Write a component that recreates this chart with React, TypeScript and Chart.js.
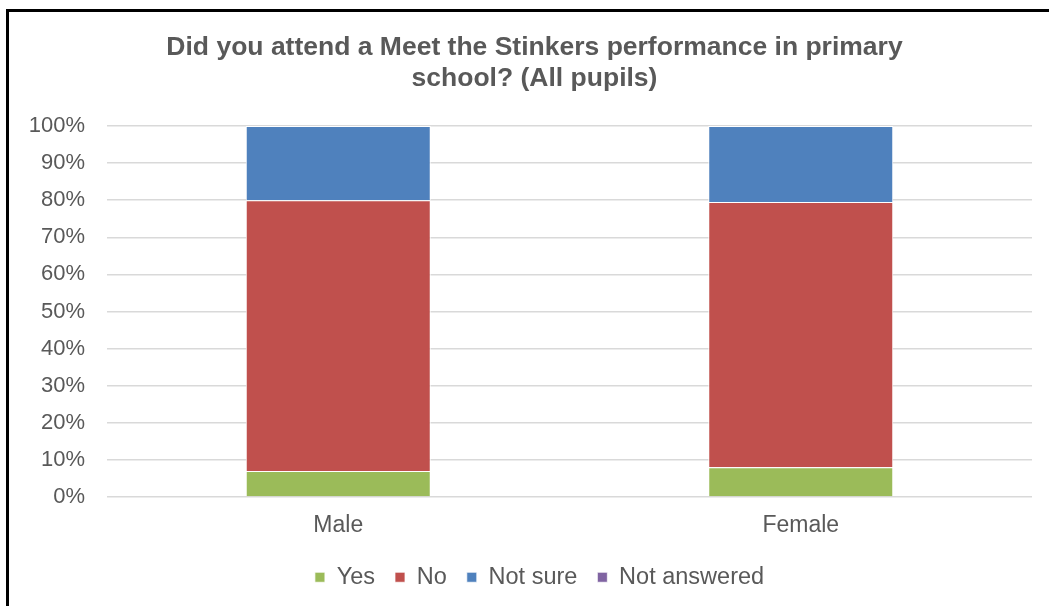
import React, { useEffect, useRef } from "react";
import { Chart, registerables } from "chart.js";

Chart.register(...registerables);

const categories = ["Male", "Female"];
const yesValues = [7, 8];
const noValues = [73, 71.5];
const notSureValues = [20, 20.5];
const notAnsweredValues = [0, 0];
const seriesLabels = ["Yes", "No", "Not sure", "Not answered"];
const seriesColors = ["#9BBB59", "#C0504D", "#4F81BD", "#8064A2"];
const titleLines = [
  "Did you attend a Meet the Stinkers performance in primary",
  "school? (All pupils)",
];

const FONT = "'Liberation Sans', Arial, Helvetica, sans-serif";
const TEXT = "#595959";

const legendShift = {
  id: "legendShift",
  afterLayout(chart: any) {
    const lg = chart.legend;
    if (lg) {
      lg.left += 5;
      lg.right += 5;
    }
  },
};

export default function App() {
  const ref = useRef<HTMLCanvasElement | null>(null);

  useEffect(() => {
    if (!ref.current) return;
    const values = [yesValues, noValues, notSureValues, notAnsweredValues];
    const chart = new Chart(ref.current, {
      type: "bar",
      data: {
        labels: categories,
        datasets: values.map((v, i) => ({
          label: seriesLabels[i],
          data: v,
          yAxisID: "y",
          xAxisID: "x",
          backgroundColor: seriesColors[i],
          borderColor: "#ffffff",
          borderWidth: { top: 1, left: 1, right: 1, bottom: 0 },
          borderSkipped: false,
          categoryPercentage: 1,
          barPercentage: 0.4,
        })),
      },
      plugins: [legendShift],
      options: {
        responsive: false,
        animation: false,
        layout: { padding: { top: 0, right: 0, bottom: 7, left: 0 } },
        plugins: {
          tooltip: { enabled: false },
          title: {
            display: true,
            text: titleLines,
            color: TEXT,
            font: { family: FONT, size: 26.5, weight: "bold", lineHeight: 1.17 },
            padding: { top: 20, bottom: 32 },
          },
          legend: {
            position: "bottom",
            labels: {
              color: TEXT,
              font: { family: FONT, size: 23.5 },
              boxWidth: 10,
              boxHeight: 10,
              padding: 20,
            },
          },
        },
        scales: {
          x: {
            stacked: true,
            grid: { display: false, drawTicks: false },
            border: { display: false },
            ticks: {
              color: TEXT,
              font: { family: FONT, size: 23 },
              padding: 14.5,
            },
            afterFit: (s: any) => {
              s.height = 48.5;
            },
          },
          y: {
            stacked: true,
            position: "left",
            min: 0,
            max: 100,
            grid: { color: "#D9D9D9", lineWidth: 1.5, drawTicks: false },
            border: { display: false },
            ticks: {
              stepSize: 10,
              color: TEXT,
              font: { family: FONT, size: 22 },
              padding: 22,
              callback: (v: any) => v + "%",
            },
            afterFit: (s: any) => {
              s.width = 98;
            },
          },
          yRight: {
            type: "linear",
            position: "right",
            grid: { display: false, drawTicks: false },
            border: { display: false },
            ticks: { display: false },
            afterFit: (s: any) => {
              s.width = 28;
            },
          },
        },
      },
    } as any);
    return () => chart.destroy();
  }, []);

  return (
    <div
      style={{
        position: "fixed",
        left: 0,
        top: 0,
        width: 1049,
        height: 606,
        overflow: "hidden",
        background: "#fff",
      }}
    >
      <div
        style={{
          position: "absolute",
          left: 6,
          top: 9,
          borderTop: "3px solid #000",
          borderLeft: "3px solid #000",
        }}
      >
        <canvas
          ref={ref}
          width={1051}
          height={594}
          style={{ display: "block", width: 1051, height: 594 }}
        />
      </div>
    </div>
  );
}
